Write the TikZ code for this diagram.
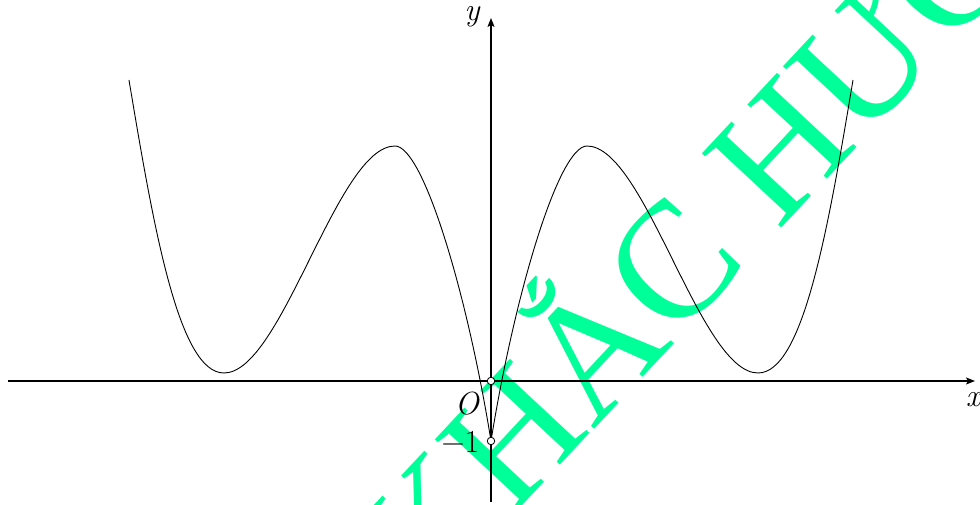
\documentclass[tikz,border=0pt]{standalone}
\usepackage{fontspec}
\newfontfamily\wmfont{Liberation Serif}
\usetikzlibrary{arrows.meta}
\definecolor{wmgreen}{RGB}{0,255,153}
\newcommand{\lblsize}{\fontsize{32}{36}\selectfont}
\begin{document}
\begin{tikzpicture}[x=1pt,y=1pt,
  axis/.style={line width=1.1pt, -{Stealth[length=9pt,width=7pt,inset=2pt]}},
  graph/.style={line width=0.9pt},
  hole/.style={circle, draw, fill=white, line width=0.8pt, inner sep=0pt, minimum size=7.5pt},
  lbl/.style={inner sep=0pt, font=\lblsize},
  wm/.style={text=wmgreen, font=\wmfont\fontsize{166}{166}\selectfont, rotate=47, inner sep=0pt, anchor=base east}]
\useasboundingbox (-491,-124) rectangle (489,381);
\clip (-491,-124) rectangle (489,381);
\node[wm] (wm) at (288,150) {KHẮC \rlap{HƯƠNG}};
\coordinate (xl) at (-483,0);
\coordinate (xr) at (484,0);
\coordinate (yb) at (0,-121);
\coordinate (yt) at (0,363);
\draw[axis] (xl) -- (xr);
\draw[axis] (yb) -- (yt);
\draw[graph] (-362,301) .. controls (-337,151) and (-312,8) .. (-267,8)
  .. controls (-209,8) and (-154,235) .. (-96,235)
  .. controls (-68,235) and (-24,89) .. (0,-60)
  .. controls (24,89) and (68,235) .. (96,235)
  .. controls (154,235) and (209,8) .. (267,8)
  .. controls (312,8) and (337,151) .. (362,301);
\node[hole] (O) at (0,0) {};
\node[hole] (M) at (0,-60) {};
\node[lbl] (xlab) at (482,-19) {\itshape x};
\node[lbl] (ylab) at (-19,364) {\itshape y};
\node[lbl] (olab) at (-24,-23) {\itshape O};
\node[lbl] (mlab) at (-30.5,-61) {−1};
\end{tikzpicture}
\end{document}
